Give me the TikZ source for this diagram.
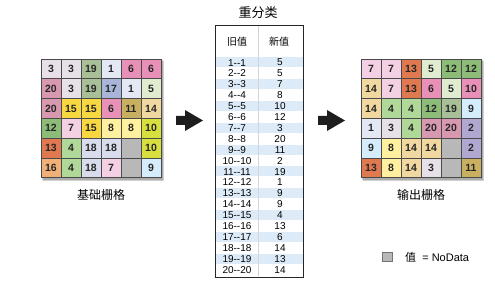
\documentclass[tikz,border=0pt]{standalone}
\usepackage{fontspec}
\newfontfamily\numfont{Liberation Sans}
\newfontfamily\cjk{Noto Sans CJK SC}
\definecolor{vA}{HTML}{E4E8F4}
\definecolor{vC}{HTML}{E8E0E8}
\definecolor{vD}{HTML}{B0D898}
\definecolor{vE}{HTML}{E0ECD0}
\definecolor{vF}{HTML}{E890B8}
\definecolor{vG}{HTML}{F4D0E4}
\definecolor{vH}{HTML}{FFF0A0}
\definecolor{vI}{HTML}{D4ECFC}
\definecolor{vJ}{HTML}{D8E040}
\definecolor{vK}{HTML}{C8B060}
\definecolor{vL}{HTML}{8CBC78}
\definecolor{vM}{HTML}{E07850}
\definecolor{vN}{HTML}{F0D8A0}
\definecolor{vO}{HTML}{F8D840}
\definecolor{vP}{HTML}{F0B078}
\definecolor{vQ}{HTML}{A8B4D8}
\definecolor{vR}{HTML}{D8DCEC}
\definecolor{vS}{HTML}{A8BF98}
\definecolor{vT}{HTML}{D898B0}
\definecolor{vB}{HTML}{B0A8D0}
\definecolor{vX}{HTML}{B8B8B8}
\definecolor{rowblue}{HTML}{DDEBF8}
\definecolor{divgray}{HTML}{D4D4D4}
\definecolor{gridline}{HTML}{4A4A4A}
\definecolor{arrowc}{HTML}{1E1E1E}
\tikzset{
  cell/.style={draw=gridline, line width=0.8pt, minimum width=20pt, minimum height=19.8pt, inner sep=0pt, font=\numfont\bfseries\fontsize{10.5}{12}\selectfont, text=black!85},
  rowtxt/.style={font=\numfont\fontsize{10}{11}\selectfont, inner sep=0pt},
  cjklabel/.style={font=\cjk\fontsize{12}{14}\selectfont, inner sep=0pt},
  hdr/.style={font=\cjk\fontsize{10}{12}\selectfont, inner sep=0pt},
  blockarrow/.style={fill=arrowc},
  shadowbox/.style={fill=black, opacity=0.18}
}
\begin{document}
\begin{tikzpicture}[x=1pt,y=-1pt]
\useasboundingbox (0,0) rectangle (495,288);
% shadows
\foreach \ox in {41,361}{
  \fill[shadowbox] (\ox+2,61) rectangle (\ox+123,181);
  \fill[shadowbox] (\ox+1,60) rectangle (\ox+122,180);
}
% left grid
\foreach \v/\c [count=\i from 0] in {
 3/vC,3/vC,19/vS,1/vA,6/vF,6/vF,
 20/vT,3/vC,19/vS,17/vQ,1/vA,5/vE,
 20/vT,15/vO,15/vO,6/vF,11/vK,14/vN,
 12/vL,7/vG,15/vO,8/vH,8/vH,10/vJ,
 13/vM,4/vD,18/vR,18/vR,{}/vX,10/vJ,
 16/vP,4/vD,18/vR,7/vG,{}/vX,9/vI}{
  \pgfmathtruncatemacro\row{\i/6}
  \pgfmathtruncatemacro\col{mod(\i,6)}
  \node[cell, fill=\c] (L\i) at (51+20*\col, 68.9+19.8*\row) {\v};
}
% right grid
\foreach \v/\c [count=\i from 0] in {
 7/vG,7/vG,13/vM,5/vE,12/vL,12/vL,
 14/vN,7/vG,13/vM,6/vF,5/vE,10/vF,
 14/vN,4/vD,4/vD,12/vL,19/vS,9/vI,
 1/vA,3/vC,4/vD,20/vT,20/vT,2/vB,
 9/vI,8/vH,14/vN,14/vN,{}/vX,2/vB,
 13/vM,8/vH,14/vN,3/vC,{}/vX,11/vK}{
  \pgfmathtruncatemacro\row{\i/6}
  \pgfmathtruncatemacro\col{mod(\i,6)}
  \node[cell, fill=\c] (R\i) at (371+20*\col, 68.9+19.8*\row) {\v};
}
\node[cjklabel] (lblL) at (101,195) {基础栅格};
\node[cjklabel] (lblR) at (421,195) {输出栅格};
% table
\node[cjklabel, font=\cjk\fontsize{13}{15}\selectfont] (title) at (258,13) {重分类};
\foreach \k/\a/\b in {1/1--1/5,2/2--2/5,3/3--3/7,4/4--4/8,5/5--5/10,6/6--6/12,7/7--7/3,8/8--8/20,9/9--9/11,10/10--10/2,11/11--11/19,12/12--12/1,13/13--13/9,14/14--14/9,15/15--15/4,16/16--16/13,17/17--17/6,18/18--18/14,19/19--19/13,20/20--20/14}{
  \pgfmathsetmacro\yt{57+(\k-1)*10.9}
  \pgfmathtruncatemacro\odd{mod(\k,2)}
  \ifnum\odd=1
    \fill[rowblue] (215,\yt+0.5) rectangle (303,\yt+10.4);
  \fi
  \node[rowtxt] (o\k) at (237,\yt+5.6) {\a};
  \node[rowtxt] (n\k) at (280,\yt+5.6) {\b};
}
\draw[divgray, line width=1.6pt] (258.5,25.5) -- (258.5,276.5);
\node[draw=black!85, line width=0.9pt, minimum width=88pt, minimum height=252pt, inner sep=0pt] (tbl) at (259,151) {};
\node[hdr] (h1) at (237,42) {旧值};
\node[hdr] (h2) at (279,42) {新值};
% arrows
\fill[blockarrow] (176,116) -- (185,116) -- (185,110) -- (203,120.5) -- (185,131) -- (185,125) -- (176,125) -- cycle;
\fill[blockarrow] (318,116) -- (327,116) -- (327,110) -- (345,120.5) -- (327,131) -- (327,125) -- (318,125) -- cycle;
% legend
\node[draw=black!55, line width=0.5pt, fill=black!28, minimum size=9.5pt, inner sep=0pt] (leg) at (387,257) {};
\node[anchor=west, inner sep=0pt, font=\numfont\fontsize{11}{13}\selectfont] (legt) at (405,257) {{\cjk 值}\ \ =\ NoData};
\end{tikzpicture}
\end{document}
